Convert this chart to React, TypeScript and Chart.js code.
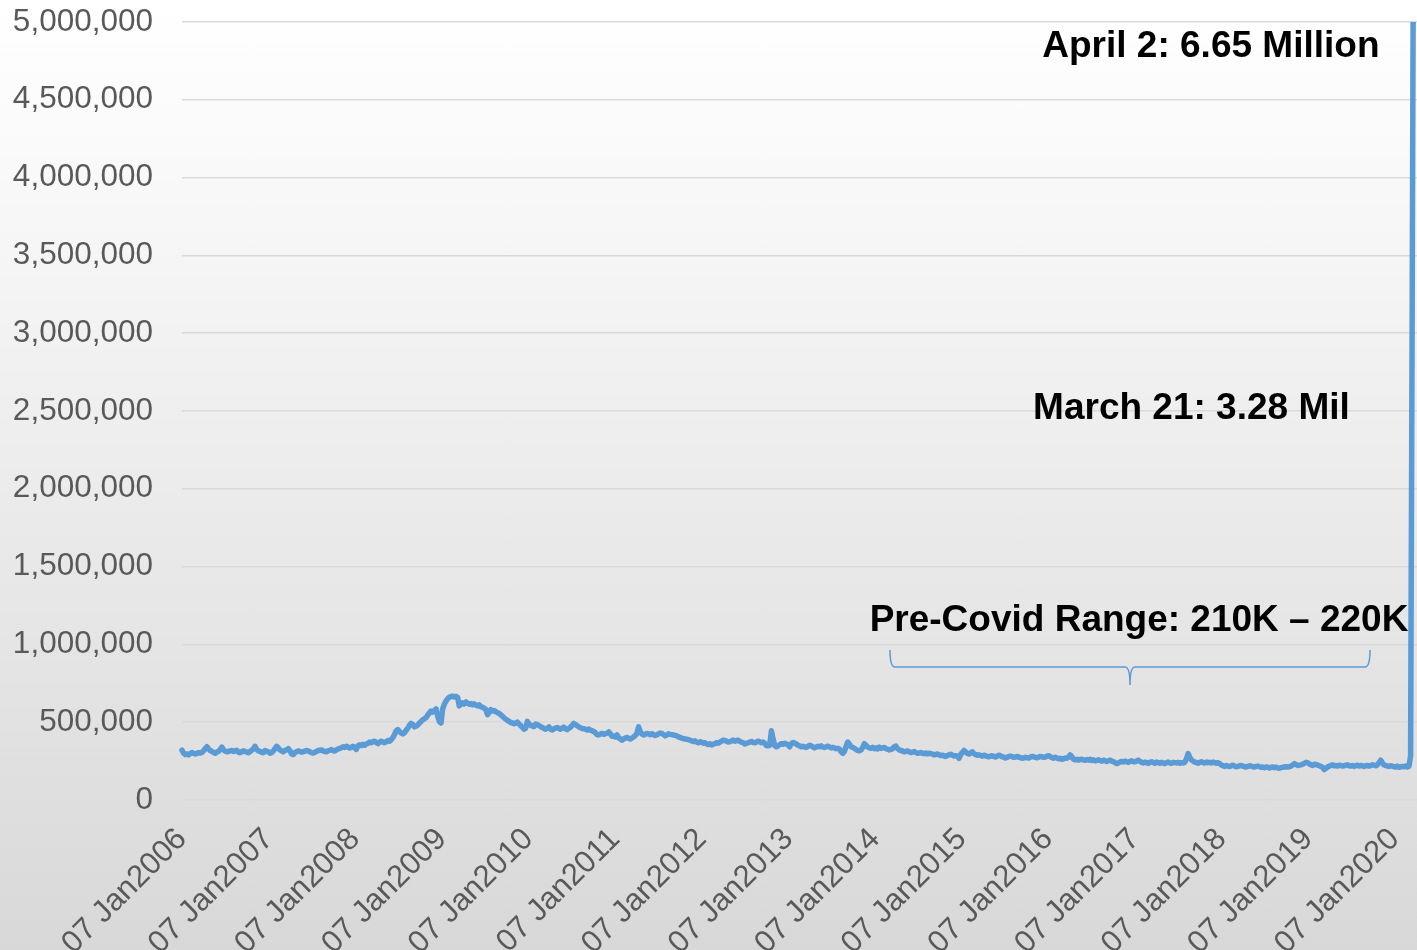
import React, { useEffect, useRef } from 'react';
import { Chart, registerables } from 'chart.js';

Chart.register(...registerables);

// Weekly initial jobless claims (thousands), weeks ending on Saturdays from 07 Jan 2006
const START_DATE = '2006-01-07';

const claims2006 = [320, 300, 292, 296, 290, 298, 305, 300, 296, 300, 304, 302, 306, 316, 330, 342, 328, 318, 312, 305, 300, 308, 312, 325, 340, 322, 314, 310, 312, 316, 318, 312, 316, 320, 308, 304, 310, 316, 312, 308, 304, 312, 320, 330, 345, 325, 316, 312, 306, 304, 318, 312];
const claims2007 = [310, 300, 305, 315, 330, 345, 335, 322, 316, 310, 318, 322, 330, 318, 296, 292, 304, 310, 315, 312, 308, 310, 314, 318, 316, 310, 305, 302, 306, 312, 318, 320, 322, 316, 312, 310, 316, 320, 324, 318, 315, 322, 328, 332, 336, 342, 338, 345, 340, 334, 338, 345];
const claims2008 = [338, 325, 348, 355, 350, 358, 352, 360, 365, 372, 368, 375, 378, 370, 362, 372, 378, 372, 368, 375, 382, 378, 388, 400, 420, 445, 452, 440, 430, 425, 432, 448, 462, 480, 492, 485, 470, 475, 482, 495, 505, 515, 522, 530, 545, 560, 572, 565, 575, 585, 540, 505];
const claims2009 = [495, 585, 615, 635, 650, 660, 665, 668, 662, 666, 660, 605, 615, 625, 618, 630, 622, 615, 620, 612, 618, 610, 605, 612, 600, 596, 590, 582, 548, 562, 580, 572, 575, 568, 562, 556, 548, 538, 528, 520, 512, 505, 498, 495, 490, 494, 500, 488, 478, 468, 455, 462];
const claims2010 = [505, 488, 480, 476, 472, 488, 484, 478, 472, 466, 460, 455, 462, 470, 455, 450, 458, 462, 466, 460, 455, 462, 468, 458, 452, 460, 468, 480, 492, 485, 478, 470, 465, 460, 458, 455, 450, 456, 448, 446, 440, 432, 420, 418, 424, 428, 422, 426, 430, 438, 425, 410];
const claims2011 = [412, 405, 418, 400, 392, 385, 392, 398, 402, 396, 392, 398, 405, 415, 428, 470, 440, 425, 418, 422, 428, 425, 420, 426, 420, 415, 418, 425, 430, 428, 420, 412, 418, 425, 422, 420, 418, 415, 412, 406, 402, 398, 395, 392, 390, 388, 384, 380, 376, 380, 372, 368, 374];
const claims2012 = [372, 365, 368, 360, 356, 362, 354, 358, 362, 368, 365, 372, 378, 384, 382, 378, 372, 375, 380, 385, 378, 382, 384, 376, 372, 368, 360, 364, 368, 372, 376, 370, 368, 372, 378, 374, 368, 372, 365, 350, 348, 352, 445, 392, 350, 342, 348, 356, 362, 358, 364, 360];
const claims2013 = [355, 342, 362, 370, 366, 360, 352, 348, 342, 345, 340, 338, 345, 352, 348, 340, 335, 340, 345, 342, 348, 340, 338, 342, 346, 340, 335, 338, 334, 330, 332, 328, 310, 300, 312, 345, 372, 360, 342, 338, 332, 325, 318, 316, 322, 338, 362, 352, 340, 335, 332, 338];
const claims2014 = [330, 335, 328, 340, 332, 335, 338, 330, 326, 322, 325, 330, 342, 346, 330, 322, 318, 315, 310, 312, 315, 310, 305, 308, 312, 305, 300, 302, 305, 300, 298, 302, 296, 300, 298, 295, 290, 292, 296, 290, 286, 288, 284, 280, 286, 290, 294, 288, 282, 285, 282, 268];
const claims2015 = [292, 305, 318, 308, 300, 295, 302, 310, 298, 292, 288, 290, 286, 282, 288, 284, 280, 278, 282, 285, 280, 276, 282, 288, 284, 278, 276, 270, 274, 280, 282, 278, 274, 276, 280, 276, 272, 268, 270, 274, 272, 270, 276, 280, 278, 274, 272, 276, 280, 278, 274, 276];
const claims2016 = [282, 285, 278, 272, 268, 275, 270, 265, 268, 262, 265, 270, 268, 275, 290, 278, 262, 258, 262, 256, 260, 262, 258, 255, 260, 256, 262, 254, 258, 252, 255, 258, 254, 250, 256, 252, 248, 252, 256, 250, 246, 240, 234, 238, 244, 248, 244, 250, 246, 242, 248, 252, 246];
const claims2017 = [246, 250, 256, 248, 242, 238, 244, 240, 236, 242, 246, 240, 236, 244, 240, 236, 242, 238, 234, 240, 244, 238, 236, 242, 240, 238, 242, 236, 240, 238, 242, 265, 298, 275, 258, 250, 244, 240, 236, 242, 246, 240, 238, 244, 240, 242, 238, 244, 240, 236, 240, 234];
const claims2018 = [225, 220, 216, 222, 218, 215, 220, 224, 218, 214, 216, 220, 222, 218, 214, 212, 216, 220, 218, 214, 212, 216, 218, 214, 210, 212, 208, 212, 210, 206, 210, 212, 208, 210, 206, 204, 208, 210, 212, 214, 212, 214, 218, 226, 234, 228, 222, 224, 226, 230, 236, 242];
const claims2019 = [240, 232, 226, 222, 230, 228, 224, 220, 216, 210, 196, 204, 212, 218, 222, 226, 220, 222, 218, 224, 222, 218, 220, 224, 226, 220, 218, 222, 216, 220, 224, 218, 222, 220, 216, 220, 222, 218, 222, 226, 224, 220, 226, 240, 256, 238, 226, 222, 218, 216, 220, 218];
const claims2020 = [214, 212, 218, 210, 212, 216, 214, 218, 212, 216, 282, 3283, 6648];

const yearLabels = [2006, 2007, 2008, 2009, 2010, 2011, 2012, 2013, 2014, 2015, 2016, 2017, 2018, 2019, 2020];

const Y_MAX = 5000000;
const Y_STEP = 500000;

const annotationTexts = [
  { text: 'April 2: 6.65 Million', date: '2017-11-23', value: 4775000 },
  { text: 'March 21: 3.28 Mil', date: '2017-09-02', value: 2451000 },
  { text: 'Pre-Covid Range: 210K \u2013 220K', date: '2017-01-24', value: 1086000 },
];
const braceSpec = { from: '2014-03-11', to: '2019-09-25', tip: '2016-12-17', top: 964000, mid: 855000, bottom: 739000 };

const DAY_MS = 86400000;
const dayOf = (iso: string) => Math.round((Date.parse(iso) - Date.parse(START_DATE)) / DAY_MS);

const weekly = [
  claims2006, claims2007, claims2008, claims2009, claims2010, claims2011, claims2012,
  claims2013, claims2014, claims2015, claims2016, claims2017, claims2018, claims2019, claims2020,
].flat();
const points = weekly.map((v, i) => ({ x: i * 7, y: v * 1000 }));
const lastDay = (weekly.length - 1) * 7;

const FONT = "'Liberation Sans', Arial, Helvetica, sans-serif";

const annotationPlugin = {
  id: 'covidAnnotations',
  afterDatasetsDraw(chart: any) {
    const { ctx, scales } = chart;
    const xs = scales.x;
    const ys = scales.y;
    ctx.save();
    // brace
    const x1 = xs.getPixelForValue(dayOf(braceSpec.from));
    const x2 = xs.getPixelForValue(dayOf(braceSpec.to));
    const xm = xs.getPixelForValue(dayOf(braceSpec.tip));
    const yT = ys.getPixelForValue(braceSpec.top);
    const yM = ys.getPixelForValue(braceSpec.mid);
    const yB = ys.getPixelForValue(braceSpec.bottom);
    const r = 5;
    ctx.strokeStyle = '#5B9BD5';
    ctx.lineWidth = 1.5;
    ctx.beginPath();
    ctx.moveTo(x1, yT);
    ctx.quadraticCurveTo(x1, yM, x1 + r, yM);
    ctx.lineTo(xm - r, yM);
    ctx.quadraticCurveTo(xm, yM, xm, yB);
    ctx.moveTo(xm, yB);
    ctx.quadraticCurveTo(xm, yM, xm + r, yM);
    ctx.lineTo(x2 - r, yM);
    ctx.quadraticCurveTo(x2, yM, x2, yT);
    ctx.stroke();
    // texts
    ctx.fillStyle = '#000000';
    ctx.font = `bold 37px ${FONT}`;
    ctx.textAlign = 'center';
    ctx.textBaseline = 'alphabetic';
    for (const a of annotationTexts) {
      ctx.fillText(a.text, xs.getPixelForValue(dayOf(a.date)), ys.getPixelForValue(a.value));
    }
    ctx.restore();
  },
};

export default function App() {
  const canvasRef = useRef<HTMLCanvasElement | null>(null);

  useEffect(() => {
    document.body.style.margin = '0';
    const canvas = canvasRef.current;
    if (!canvas) return;
    const chart = new Chart(canvas, {
      type: 'line',
      data: {
        datasets: [
          {
            data: points,
            borderColor: '#5B9BD5',
            backgroundColor: '#5B9BD5',
            borderWidth: 5.5,
            pointRadius: 0,
            tension: 0,
            borderJoinStyle: 'round',
            borderCapStyle: 'round',
            clip: { left: 3, top: 0, right: 3, bottom: 3 },
          } as any,
        ],
      },
      options: {
        responsive: false,
        animation: false,
        parsing: false,
        layout: { padding: { top: 22, left: 0, right: 0, bottom: 0 } },
        plugins: {
          legend: { display: false },
          tooltip: { enabled: false },
        },
        scales: {
          x: {
            type: 'linear',
            min: 0,
            max: lastDay + 13,
            grid: { display: false },
            border: { display: false },
            afterBuildTicks: (scale: any) => {
              scale.ticks = yearLabels.map((y) => ({ value: dayOf(`${y}-01-07`) }));
            },
            afterFit: (scale: any) => {
              scale.height = 150;
              scale.paddingRight = 0;
            },
            ticks: {
              autoSkip: false,
              maxRotation: 45,
              minRotation: 45,
              padding: 13,
              color: '#595959',
              font: { family: FONT, size: 31 },
              callback: (value: any) => {
                const d = new Date(Date.parse(START_DATE) + Number(value) * DAY_MS);
                return `07 Jan${d.getUTCFullYear()}`;
              },
            },
          },
          y: {
            min: 0,
            max: Y_MAX,
            grid: { color: '#d9d9d9', lineWidth: 1.5, drawTicks: false },
            border: { display: false },
            afterFit: (scale: any) => {
              scale.width = 182;
              scale.paddingTop = 0;
              scale.paddingBottom = 0;
            },
            ticks: {
              stepSize: Y_STEP,
              padding: 29,
              color: '#595959',
              font: { family: FONT, size: 31.5 },
              callback: (value: any) => Number(value).toLocaleString('en-US'),
            },
          },
        },
      },
      plugins: [annotationPlugin],
    });
    return () => chart.destroy();
  }, []);

  return (
    <div
      style={{
        width: 1417,
        height: 950,
        background: 'linear-gradient(to bottom, #ffffff 0%, #fafafa 15%, #d8d8d8 100%)',
        overflow: 'hidden',
      }}
    >
      <canvas ref={canvasRef} width={1417} height={950} style={{ display: 'block' }} />
    </div>
  );
}
